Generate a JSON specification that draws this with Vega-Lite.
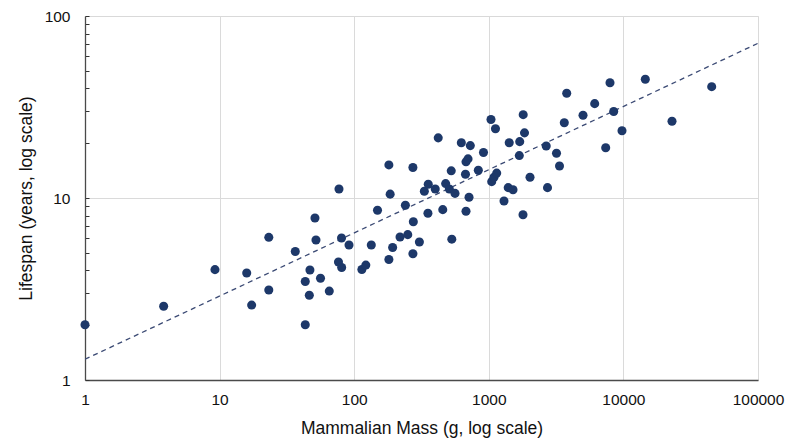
{
  "$schema": "https://vega.github.io/schema/vega-lite/v6.json",
  "width": 673,
  "height": 364,
  "autosize": "none",
  "padding": {"left": 85, "top": 16, "right": 42, "bottom": 67},
  "background": "white",
  "config": {
    "view": {"stroke": "#d9d9d9", "strokeWidth": 1},
    "font": "Liberation Sans",
    "axis": {
      "labelFont": "Liberation Sans",
      "titleFont": "Liberation Sans",
      "labelFontSize": 15.5,
      "titleFontSize": 17.5,
      "titleFontWeight": "normal",
      "labelColor": "#111111",
      "titleColor": "#111111",
      "domainColor": "#4a4a4a",
      "domainWidth": 1.3,
      "gridColor": "#dadada",
      "gridWidth": 1
    }
  },
  "datasets": {
    "mammals": [
      {"mass": 1, "life": 2.01},
      {"mass": 3.84, "life": 2.54},
      {"mass": 9.24, "life": 4.04},
      {"mass": 15.9, "life": 3.87},
      {"mass": 17.3, "life": 2.58},
      {"mass": 23.2, "life": 6.08},
      {"mass": 23.2, "life": 3.12},
      {"mass": 36.5, "life": 5.08},
      {"mass": 43.3, "life": 3.48},
      {"mass": 43.3, "life": 2.01},
      {"mass": 46.4, "life": 2.92},
      {"mass": 46.9, "life": 4.02},
      {"mass": 51.1, "life": 7.77},
      {"mass": 52.0, "life": 5.88},
      {"mass": 56.2, "life": 3.62},
      {"mass": 65.3, "life": 3.08},
      {"mass": 76.4, "life": 4.45},
      {"mass": 80.7, "life": 4.15},
      {"mass": 77.1, "life": 11.2},
      {"mass": 80.5, "life": 6.03},
      {"mass": 91.5, "life": 5.52},
      {"mass": 114, "life": 4.05},
      {"mass": 122, "life": 4.28},
      {"mass": 134, "life": 5.52},
      {"mass": 149, "life": 8.57},
      {"mass": 181, "life": 15.2},
      {"mass": 185, "life": 10.5},
      {"mass": 181, "life": 4.59},
      {"mass": 193, "life": 5.35},
      {"mass": 219, "life": 6.11},
      {"mass": 250, "life": 6.29},
      {"mass": 240, "life": 9.12},
      {"mass": 273, "life": 14.7},
      {"mass": 275, "life": 7.41},
      {"mass": 273, "life": 4.94},
      {"mass": 305, "life": 5.73},
      {"mass": 332, "life": 10.9},
      {"mass": 355, "life": 11.9},
      {"mass": 353, "life": 8.25},
      {"mass": 400, "life": 11.2},
      {"mass": 421, "life": 21.4},
      {"mass": 455, "life": 8.63},
      {"mass": 478, "life": 12.0},
      {"mass": 509, "life": 11.2},
      {"mass": 526, "life": 14.1},
      {"mass": 531, "life": 5.94},
      {"mass": 561, "life": 10.6},
      {"mass": 625, "life": 20.1},
      {"mass": 671, "life": 13.5},
      {"mass": 677, "life": 15.8},
      {"mass": 701, "life": 16.4},
      {"mass": 677, "life": 8.45},
      {"mass": 713, "life": 10.1},
      {"mass": 729, "life": 19.4},
      {"mass": 836, "life": 14.2},
      {"mass": 913, "life": 17.8},
      {"mass": 1038, "life": 27.0},
      {"mass": 1121, "life": 24.0},
      {"mass": 1051, "life": 12.3},
      {"mass": 1093, "life": 13.0},
      {"mass": 1145, "life": 13.7},
      {"mass": 1297, "life": 9.63},
      {"mass": 1394, "life": 11.4},
      {"mass": 1513, "life": 11.1},
      {"mass": 1418, "life": 20.1},
      {"mass": 1697, "life": 20.4},
      {"mass": 1685, "life": 17.1},
      {"mass": 1801, "life": 28.7},
      {"mass": 1842, "life": 22.8},
      {"mass": 1795, "life": 8.09},
      {"mass": 2024, "life": 13.0},
      {"mass": 2670, "life": 19.3},
      {"mass": 2730, "life": 11.4},
      {"mass": 3184, "life": 17.6},
      {"mass": 3352, "life": 15.0},
      {"mass": 3638, "life": 25.9},
      {"mass": 3792, "life": 37.6},
      {"mass": 5012, "life": 28.5},
      {"mass": 6119, "life": 33.0},
      {"mass": 7387, "life": 18.9},
      {"mass": 7952, "life": 43.0},
      {"mass": 8472, "life": 29.9},
      {"mass": 9763, "life": 23.4},
      {"mass": 14546, "life": 44.9},
      {"mass": 22970, "life": 26.4},
      {"mass": 45290, "life": 40.9}
    ],
    "fit": [
      {"mass": 1, "life": 1.3},
      {"mass": 100000, "life": 70.8}
    ]
  },
  "encoding": {
    "x": {
      "field": "mass",
      "type": "quantitative",
      "scale": {"type": "log", "domain": [1, 100000], "nice": false},
      "axis": {
        "title": "Mammalian Mass (g, log scale)",
        "values": [1, 10, 100, 1000, 10000, 100000],
        "format": "d",
        "ticks": false,
        "grid": true,
        "labelPadding": 12,
        "titlePadding": 12,
        "labelFlush": false
      }
    },
    "y": {
      "field": "life",
      "type": "quantitative",
      "scale": {"type": "log", "domain": [1, 100], "nice": false},
      "axis": {
        "title": "Lifespan (years, log scale)",
        "values": [1, 2, 3, 4, 5, 6, 7, 8, 9, 10, 20, 30, 40, 50, 60, 70, 80, 90, 100],
        "format": "d",
        "labelExpr": "datum.value == 1 || datum.value == 10 || datum.value == 100 ? datum.label : ''",
        "ticks": true,
        "tickSize": -4,
        "tickColor": "#333333",
        "tickWidth": 1,
        "labelPadding": 19,
        "titlePadding": 9,
        "labelFlush": false,
        "grid": true,
        "gridOpacity": {"condition": {"test": "datum.value == 10", "value": 1}, "value": 0}
      }
    }
  },
  "layer": [
    {
      "data": {"name": "fit"},
      "mark": {"type": "line", "color": "#3b4a74", "strokeWidth": 1.3, "strokeDash": [5, 4], "clip": true}
    },
    {
      "data": {"name": "mammals"},
      "mark": {"type": "circle", "size": 82, "color": "#1d3869", "opacity": 1}
    }
  ]
}
